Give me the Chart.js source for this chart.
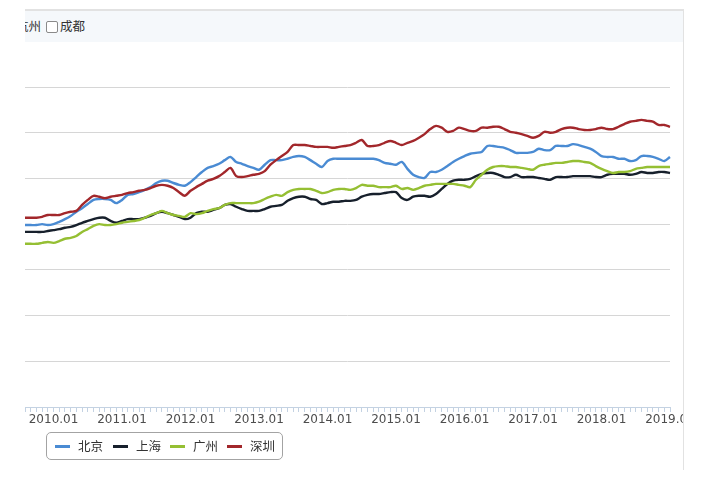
<!DOCTYPE html>
<html><head><meta charset="utf-8">
<script src="https://cdn.jsdelivr.net/npm/chart.js@4.4.0/dist/chart.umd.min.js"></script>
<style>
html,body{margin:0;padding:0;background:#fff;width:724px;height:486px;overflow:hidden;font-family:"DejaVu Sans","Noto Sans CJK SC",sans-serif}
#c{position:absolute;left:0;top:0}
#topline{position:absolute;left:25px;top:9px;width:658px;height:2px;background:#e2e2e2}
#strip{position:absolute;left:25px;top:11px;width:658px;height:31px;background:#f5f8fb;overflow:hidden}
#strip .t{position:absolute;top:7px;font-family:"Noto Sans CJK SC",sans-serif;font-size:12.5px;color:#333;white-space:nowrap;line-height:16px}
#strip .cb{position:absolute;left:21px;top:10px;width:10px;height:10px;border:1px solid #8a8a8a;border-radius:2px;background:#fff}
#rcover{position:absolute;left:683px;top:0;width:41px;height:486px;background:#fff}
#rline{position:absolute;left:683px;top:9px;width:1px;height:461px;background:#e2e2e2}
#legend{position:absolute;left:46px;top:432px;width:235px;height:26px;border:1px solid #a3a3a3;border-radius:5px;background:#fff}
#legend .it{position:absolute;top:0;height:26px;line-height:26px;font-family:"Noto Sans CJK SC",sans-serif;font-size:12.5px;color:#333;white-space:nowrap}
#legend .ln{position:absolute;top:12px;width:15px;height:2.5px}
</style></head>
<body>
<canvas id="c" width="724" height="440"></canvas>
<div id="topline"></div>
<div id="strip"><span class="t" style="left:-9px">杭州</span><span class="cb"></span><span class="t" style="left:35px">成都</span></div>
<div id="rcover"></div><div id="rline"></div>
<div id="legend"></div>
<script>
// categories: monthly, 2009.08 - 2019.01
const months = [];
for (let y = 2009; y <= 2019; y++) {
  for (let m = 1; m <= 12; m++) {
    if ((y === 2009 && m < 8) || (y === 2019 && m > 1)) continue;
    months.push(y + '.' + (m < 10 ? '0' + m : m));
  }
}
const tickLabels = ['2010.01','2011.01','2012.01','2013.01','2014.01','2015.01','2016.01','2017.01','2018.01','2019.01'];
const seriesNames = ['北京','上海','广州','深圳'];

const beijing = [3.98,3.98,3.98,4.00,3.98,4.00,4.05,4.11,4.18,4.27,
4.35,4.44,4.53,4.55,4.55,4.53,4.46,4.53,4.64,4.66,
4.70,4.75,4.81,4.90,4.95,4.95,4.90,4.86,4.84,4.92,
5.03,5.14,5.23,5.27,5.32,5.40,5.47,5.36,5.32,5.27,
5.23,5.19,5.30,5.40,5.40,5.40,5.43,5.47,5.49,5.47,
5.40,5.32,5.25,5.38,5.43,5.43,5.43,5.43,5.43,5.43,
5.43,5.43,5.40,5.34,5.32,5.30,5.36,5.21,5.08,5.03,
5.01,5.14,5.14,5.19,5.27,5.36,5.43,5.49,5.54,5.56,
5.58,5.71,5.71,5.69,5.67,5.62,5.56,5.56,5.56,5.58,
5.65,5.62,5.62,5.71,5.71,5.71,5.75,5.73,5.69,5.65,
5.58,5.49,5.47,5.47,5.43,5.43,5.38,5.40,5.49,5.49,
5.47,5.43,5.38,5.47];

const shanghai = [3.83,3.83,3.83,3.83,3.85,3.87,3.89,3.92,3.94,3.98,
4.03,4.07,4.11,4.14,4.14,4.07,4.03,4.07,4.11,4.11,
4.11,4.14,4.18,4.24,4.27,4.24,4.20,4.16,4.11,4.14,
4.24,4.27,4.27,4.31,4.35,4.42,4.44,4.38,4.33,4.29,
4.29,4.29,4.33,4.38,4.40,4.42,4.51,4.57,4.60,4.60,
4.55,4.53,4.44,4.46,4.49,4.49,4.51,4.51,4.53,4.60,
4.64,4.66,4.66,4.68,4.70,4.70,4.57,4.53,4.60,4.62,
4.62,4.60,4.66,4.77,4.88,4.95,4.97,4.97,4.99,5.05,
5.10,5.12,5.12,5.08,5.03,5.03,5.08,5.03,5.03,5.03,
5.01,4.99,4.97,5.03,5.03,5.03,5.05,5.05,5.05,5.05,
5.03,5.03,5.08,5.10,5.10,5.10,5.08,5.10,5.14,5.12,
5.12,5.14,5.14,5.12];

const guangzhou = [3.57,3.57,3.57,3.59,3.61,3.59,3.63,3.68,3.70,3.74,
3.83,3.89,3.96,4.00,3.98,3.98,4.00,4.03,4.05,4.07,
4.09,4.14,4.20,4.24,4.29,4.24,4.20,4.18,4.16,4.24,
4.22,4.24,4.29,4.33,4.35,4.42,4.46,4.46,4.46,4.46,
4.46,4.49,4.55,4.60,4.64,4.62,4.70,4.75,4.77,4.77,
4.77,4.73,4.68,4.70,4.75,4.77,4.77,4.75,4.79,4.86,
4.84,4.84,4.81,4.81,4.81,4.84,4.77,4.79,4.75,4.79,
4.84,4.86,4.88,4.88,4.88,4.88,4.86,4.84,4.81,4.97,
5.08,5.19,5.25,5.27,5.27,5.25,5.25,5.23,5.21,5.19,
5.27,5.30,5.32,5.34,5.34,5.36,5.38,5.38,5.36,5.34,
5.27,5.21,5.16,5.12,5.14,5.14,5.16,5.21,5.23,5.25,
5.25,5.25,5.25,5.25];

const shenzhen = [4.14,4.14,4.14,4.16,4.20,4.20,4.20,4.24,4.27,4.29,
4.42,4.53,4.62,4.60,4.57,4.60,4.62,4.64,4.68,4.70,
4.73,4.75,4.79,4.84,4.86,4.84,4.79,4.70,4.62,4.73,
4.81,4.88,4.95,4.99,5.05,5.14,5.23,5.05,5.03,5.05,
5.08,5.10,5.16,5.30,5.40,5.49,5.58,5.73,5.73,5.73,
5.71,5.69,5.69,5.69,5.67,5.69,5.71,5.73,5.78,5.84,
5.71,5.71,5.73,5.78,5.82,5.78,5.73,5.78,5.82,5.89,
5.97,6.08,6.15,6.11,6.02,6.04,6.11,6.08,6.04,6.04,
6.11,6.11,6.13,6.13,6.08,6.02,6.00,5.97,5.93,5.89,
5.93,6.02,6.00,6.02,6.08,6.11,6.11,6.08,6.06,6.06,
6.08,6.11,6.08,6.08,6.13,6.19,6.24,6.26,6.28,6.26,
6.24,6.17,6.17,6.13];

const colors = ['#4a8bd3','#17202c','#95bf33','#a2272b'];
const values = [beijing, shanghai, guangzhou, shenzhen];

const datasets = seriesNames.map((n, i) => ({
  label: n,
  data: values[i],
  borderColor: colors[i],
  backgroundColor: colors[i],
  borderWidth: 2.4,
  pointRadius: 0,
  tension: 0.3,
  fill: false,
  order: 4 - i
}));

const chart = new Chart(document.getElementById('c'), {
  type: 'line',
  data: { labels: months, datasets },
  options: {
    responsive: false,
    animation: false,
    devicePixelRatio: 1,
    layout: { padding: { left: 25, right: 54, top: 87, bottom: 0 } },
    plugins: { legend: { display: false }, tooltip: { enabled: false } },
    scales: {
      x: {
        type: 'category',
        offset: false,
        grid: { display: true, drawOnChartArea: false, drawTicks: true, tickLength: 5, color: '#c4d2e2', lineWidth: 1 },
        border: { display: true, color: '#c4d2e2', width: 1 },
        ticks: {
          autoSkip: false, maxRotation: 0, minRotation: 0, padding: 1,
          color: '#4d4d4d', font: { family: 'DejaVu Sans', size: 12 },
          callback: function (v) { const l = this.getLabelForValue(v); return tickLabels.includes(l) ? l : ''; }
        },
        afterFit: s => { s.height = 33; }
      },
      y: {
        min: 0, max: 7,
        ticks: { display: false, stepSize: 1 },
        grid: { color: '#d6d6d6', lineWidth: 1, drawTicks: false },
        border: { display: false },
        afterFit: s => { s.width = 0; }
      }
    }
  }
});

// HTML legend built from the chart's datasets
const lg = document.getElementById('legend');
const starts = [8, 66, 123, 180];
chart.data.datasets.forEach((d, i) => {
  const ln = document.createElement('div');
  ln.className = 'ln';
  ln.style.left = starts[i] + 'px';
  ln.style.background = d.borderColor;
  lg.appendChild(ln);
  const t = document.createElement('div');
  t.className = 'it';
  t.style.left = (starts[i] + 23) + 'px';
  t.textContent = d.label;
  lg.appendChild(t);
});
</script>
</body></html>
